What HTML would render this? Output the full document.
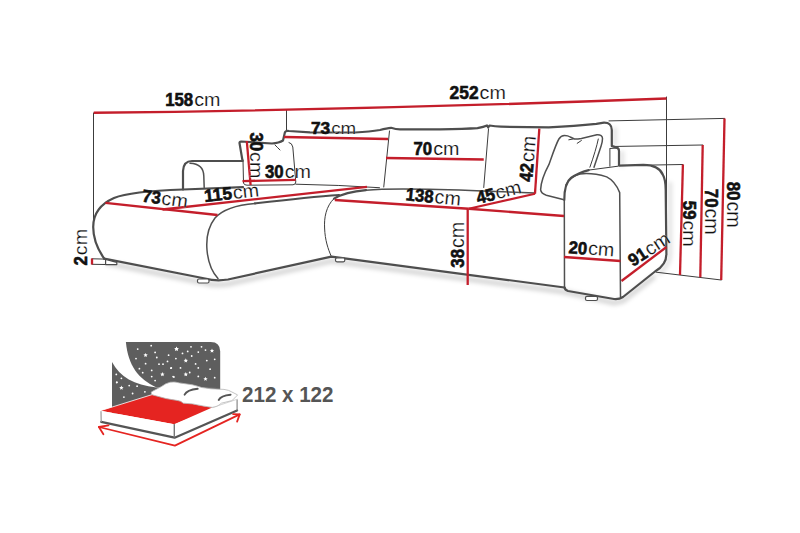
<!DOCTYPE html>
<html><head><meta charset="utf-8"><style>
html,body{margin:0;padding:0;background:#fff;width:800px;height:533px;overflow:hidden;position:relative}
text{font-family:"Liberation Sans",sans-serif}
</style></head><body>
<svg width="800" height="533" viewBox="0 0 800 533" style="position:absolute;left:0;top:0"><defs><filter id="sh" x="-10%" y="-50%" width="120%" height="200%"><feGaussianBlur stdDeviation="2.2"/></filter></defs><g filter="url(#sh)" fill="none" stroke="#000" stroke-opacity="0.16" stroke-width="5"><path d="M106,263 L205,283 Q216,286 228,284 L331.4,261 L564.5,292 L614,303 L623,301 L655,276"/><path d="M615,127 L615,146 M622,151 L622,167 M670,182 L670,254 Q670,266 658,274" stroke-width="4" stroke-opacity="0.12"/></g><g fill="none" stroke="#3c3c3c" stroke-width="1" stroke-linecap="round"><path d="M93.5,113 L93.5,222"/><path d="M286.5,110 L286.5,130"/><path d="M666.5,97 L666.5,256"/><path d="M609,120.9 L724.5,118.4"/><path d="M612,146.5 L702.7,145"/><path d="M643,165.2 L682.9,164.5"/><path d="M656.2,272.2 L721.2,280"/><path d="M92,258.8 L105.6,259.1 L105.6,264.5 L92,264.3"/><path d="M609.9,149 L609.9,166.2"/><path d="M610,148.5 L617,148"/><path d="M598.3,139 Q596,150 589.9,167.2"/><path d="M568.8,139.8 L573,139"/><path d="M577.2,143.3 L581.4,140.5"/><path d="M243,160 L243.5,183 Q244,185.2 247,185.2 L293,184.8 Q295.8,184.5 295.8,182 L292.8,147 Q292,143 289,142.5"/><path d="M275,145 Q278,148 280,150"/><path d="M295.8,184.2 Q340,185 379.5,187.7"/><path d="M334,198.6 C 326,206 324,218 324.6,228 C 325,240 328,249 331.4,256.6"/><path d="M389.5,131 L383.75,187"/><path d="M488.5,129 L483.75,187.5"/><path d="M588.7,170.1 L618,166.2"/></g><g fill="none" stroke="#505050" stroke-width="1.5" stroke-linecap="round" stroke-linejoin="round"><path d="M564.5,287.5 L564.3,200"/><path d="M190,163.3 Q203.6,164 203.8,176 L204.2,187.5"/><path d="M366,190.2 C 380,189 420,188.5 482.5,191 L535,193"/><path d="M255,203.4 C 235,205 222,210 215,218 C 208,227 206,238 207,250 C 208,262 212,272 218,278.5"/><path d="M563.1,199.5 L546.3,195.3 Q541,193.5 540.6,189.7 C 541,180 546,170 549,164.4 C 553,153 556,144 558.9,139 Q561,135.5 564.5,135.5 Q568,135.5 570.2,137 L574.4,139 Q578,139 581.4,138.4 L596.9,134.8 Q602.5,134.5 602.5,138.5 Q602.5,142 601.1,146 L594,167.2"/><path d="M566,185 Q570,176 580,174 Q592,172.5 606.7,176.9 Q615,181 619.7,192.6 L620.5,297"/></g><g fill="none" stroke="#4e4e4e" stroke-width="2.2" stroke-linecap="round" stroke-linejoin="round"><path d="M183,189 L183,171 Q183.5,161 192,161 L242.5,161"/><path d="M242.5,160.7 L239.5,143 Q239.5,141.5 241,141.5 L272,143.5 Q279,143 283,140.5 L285,132 Q286,130.5 289,131 L310,132.3 L355,132.5 Q370,131.8 380,130 Q387,128 391,127.8 Q396,129.4 400,129.4 L440,129.4 Q465,129 477.5,128.2 Q484,127 487,125.5 L488.2,127.5 L489.5,125.5 Q495,126.5 501,126.7 L548.8,127.4 Q575,126 596.3,123.9 L604,122.7 Q611.8,122.6 611.8,130 L611.8,145.9 L617.1,147.9 Q619,148.5 619,151 L619,165.6 L643.4,164.9 Q659,165 663,175 Q665.7,180 665.7,190 L666.4,254 Q666.4,265 655,271.5 L623,297 Q619,299.5 614,299 L568,291 Q565,290 564.5,287.5"/><path d="M183,189.5 C 155,190.5 128,192.3 114,198 C 100,204.2 93.2,214 93.2,227 C 93.2,237 97.5,249 104.2,258.6"/><path d="M104.2,258.6 L205,278.5 Q216,281.5 228,279.5 L331.4,256.6 L564.5,287.5"/><path d="M564.3,200 C 564.3,186 567,181 571,178 Q578,173 588.7,170.1"/><path d="M183,189.5 L243,187.2"/><path d="M255,203.4 C 280,200.5 310,197 339,195"/><path d="M334,198.6 C 342,194 352,191.5 366,190.2"/></g><path d="M105.6,259.3 L116.8,262.3 L116.8,264.6 L105.6,264.6 Z" fill="#fff" stroke="#4a4a4a" stroke-width="1.2" stroke-linejoin="round"/><g fill="#fff" stroke="#4e4e4e" stroke-width="1.2"><rect x="197.5" y="279" width="11.5" height="4" rx="1.5"/><rect x="335.5" y="257.8" width="9.3" height="4" rx="1.5"/><rect x="585.5" y="296.3" width="12" height="4.2" rx="1.5"/></g><g fill="none" stroke="#c41e2b" stroke-width="2.3" stroke-linecap="butt"><path d="M93.75,112.75 Q 380,109.5 666.5,98.5"/><path d="M284,137 L388,139"/><path d="M386,158 L483.75,159.5"/><path d="M246.8,141 L250.6,185"/><path d="M242.5,181.1 L295.7,179.8"/><path d="M105.4,202.8 L217.5,215"/><path d="M162.5,209.5 L367,186.8"/><path d="M334.8,200 L468.75,208.75"/><path d="M468.75,208.75 L535,193.75"/><path d="M535,193.75 L539.3,128.6"/><path d="M468.75,208.75 L564,216"/><path d="M467.7,208.75 L467.7,285"/><path d="M564,257 L620.5,261"/><path d="M621.5,281 L666.5,247"/><path d="M682.9,164.5 L680,275"/><path d="M702.7,145 L700.3,277.3"/><path d="M724.5,118.4 L721.2,280"/><path d="M92,258.5 L92,264.5"/></g><g fill="#111" font-family="Liberation Sans, sans-serif"><g transform="translate(192.80,99.80) rotate(0)"><text x="-27.65" y="6.10" font-weight="bold" font-size="17.43" stroke="#111" stroke-width="0.6" textLength="27.99" lengthAdjust="spacingAndGlyphs">158</text><text x="1.34" y="6.10" font-size="18.70" textLength="26.30" stroke="#fff" stroke-width="0.18" lengthAdjust="spacingAndGlyphs">cm</text></g><g transform="translate(477.75,92.75) rotate(0)"><text x="-28.16" y="6.25" font-weight="bold" font-size="17.86" stroke="#111" stroke-width="0.6" textLength="29.01" lengthAdjust="spacingAndGlyphs">252</text><text x="1.85" y="6.25" font-size="19.16" textLength="26.30" stroke="#fff" stroke-width="0.18" lengthAdjust="spacingAndGlyphs">cm</text></g><g transform="translate(333.60,128.50) rotate(0)"><text x="-22.60" y="5.60" font-weight="bold" font-size="16.00" stroke="#111" stroke-width="0.6" textLength="19.20" lengthAdjust="spacingAndGlyphs">73</text><text x="-2.40" y="5.60" font-size="17.17" textLength="25.00" stroke="#fff" stroke-width="0.18" lengthAdjust="spacingAndGlyphs">cm</text></g><g transform="translate(436.50,148.75) rotate(0)"><text x="-22.98" y="6.15" font-weight="bold" font-size="17.57" stroke="#111" stroke-width="0.6" textLength="18.66" lengthAdjust="spacingAndGlyphs">70</text><text x="-3.32" y="6.15" font-size="18.85" textLength="26.30" stroke="#fff" stroke-width="0.18" lengthAdjust="spacingAndGlyphs">cm</text></g><g transform="translate(288.00,171.80) rotate(0)"><text x="-22.98" y="6.15" font-weight="bold" font-size="17.57" stroke="#111" stroke-width="0.6" textLength="18.66" lengthAdjust="spacingAndGlyphs">30</text><text x="-3.32" y="6.15" font-size="18.85" textLength="26.30" stroke="#fff" stroke-width="0.18" lengthAdjust="spacingAndGlyphs">cm</text></g><g transform="translate(256.30,155.40) rotate(90)"><text x="-22.98" y="6.25" font-weight="bold" font-size="17.86" stroke="#111" stroke-width="0.6" textLength="18.66" lengthAdjust="spacingAndGlyphs">30</text><text x="-3.32" y="6.25" font-size="19.16" textLength="26.30" stroke="#fff" stroke-width="0.18" lengthAdjust="spacingAndGlyphs">cm</text></g><g transform="translate(165.00,198.50) rotate(8)"><text x="-22.98" y="6.15" font-weight="bold" font-size="17.57" stroke="#111" stroke-width="0.6" textLength="18.66" lengthAdjust="spacingAndGlyphs">73</text><text x="-3.32" y="6.15" font-size="18.85" textLength="26.30" stroke="#fff" stroke-width="0.18" lengthAdjust="spacingAndGlyphs">cm</text></g><g transform="translate(231.50,193.00) rotate(-6)"><text x="-27.65" y="6.15" font-weight="bold" font-size="17.57" stroke="#111" stroke-width="0.6" textLength="27.99" lengthAdjust="spacingAndGlyphs">115</text><text x="1.34" y="6.15" font-size="18.85" textLength="26.30" stroke="#fff" stroke-width="0.18" lengthAdjust="spacingAndGlyphs">cm</text></g><g transform="translate(433.40,196.60) rotate(5.5)"><text x="-27.65" y="6.25" font-weight="bold" font-size="17.86" stroke="#111" stroke-width="0.6" textLength="27.99" lengthAdjust="spacingAndGlyphs">138</text><text x="1.34" y="6.25" font-size="19.16" textLength="26.30" stroke="#fff" stroke-width="0.18" lengthAdjust="spacingAndGlyphs">cm</text></g><g transform="translate(498.70,192.40) rotate(-14)"><text x="-22.98" y="6.15" font-weight="bold" font-size="17.57" stroke="#111" stroke-width="0.6" textLength="18.66" lengthAdjust="spacingAndGlyphs">45</text><text x="-3.32" y="6.15" font-size="18.85" textLength="26.30" stroke="#fff" stroke-width="0.18" lengthAdjust="spacingAndGlyphs">cm</text></g><g transform="translate(527.50,158.75) rotate(-85)"><text x="-22.98" y="6.50" font-weight="bold" font-size="18.57" stroke="#111" stroke-width="0.6" textLength="18.66" lengthAdjust="spacingAndGlyphs">42</text><text x="-3.32" y="6.50" font-size="19.93" textLength="26.30" stroke="#fff" stroke-width="0.18" lengthAdjust="spacingAndGlyphs">cm</text></g><g transform="translate(457.50,244.70) rotate(-90)"><text x="-22.98" y="6.35" font-weight="bold" font-size="18.14" stroke="#111" stroke-width="0.6" textLength="18.66" lengthAdjust="spacingAndGlyphs">38</text><text x="-3.32" y="6.35" font-size="19.47" textLength="26.30" stroke="#fff" stroke-width="0.18" lengthAdjust="spacingAndGlyphs">cm</text></g><g transform="translate(591.50,248.70) rotate(4)"><text x="-22.98" y="6.15" font-weight="bold" font-size="17.57" stroke="#111" stroke-width="0.6" textLength="18.66" lengthAdjust="spacingAndGlyphs">20</text><text x="-3.32" y="6.15" font-size="18.85" textLength="26.30" stroke="#fff" stroke-width="0.18" lengthAdjust="spacingAndGlyphs">cm</text></g><g transform="translate(649.00,249.25) rotate(-33)"><text x="-22.98" y="6.15" font-weight="bold" font-size="17.57" stroke="#111" stroke-width="0.6" textLength="18.66" lengthAdjust="spacingAndGlyphs">91</text><text x="-3.32" y="6.15" font-size="18.85" textLength="26.30" stroke="#fff" stroke-width="0.18" lengthAdjust="spacingAndGlyphs">cm</text></g><g transform="translate(689.30,223.80) rotate(90)"><text x="-22.98" y="6.15" font-weight="bold" font-size="17.57" stroke="#111" stroke-width="0.6" textLength="18.66" lengthAdjust="spacingAndGlyphs">59</text><text x="-3.32" y="6.15" font-size="18.85" textLength="26.30" stroke="#fff" stroke-width="0.18" lengthAdjust="spacingAndGlyphs">cm</text></g><g transform="translate(711.00,211.80) rotate(90)"><text x="-22.98" y="6.50" font-weight="bold" font-size="18.57" stroke="#111" stroke-width="0.6" textLength="18.66" lengthAdjust="spacingAndGlyphs">70</text><text x="-3.32" y="6.50" font-size="19.93" textLength="26.30" stroke="#fff" stroke-width="0.18" lengthAdjust="spacingAndGlyphs">cm</text></g><g transform="translate(733.80,204.75) rotate(90)"><text x="-22.98" y="6.50" font-weight="bold" font-size="18.57" stroke="#111" stroke-width="0.6" textLength="18.66" lengthAdjust="spacingAndGlyphs">80</text><text x="-3.32" y="6.50" font-size="19.93" textLength="26.30" stroke="#fff" stroke-width="0.18" lengthAdjust="spacingAndGlyphs">cm</text></g><g transform="translate(81.00,247.25) rotate(-90)"><text x="-18.32" y="6.10" font-weight="bold" font-size="17.43" stroke="#111" stroke-width="0.6" textLength="9.33" lengthAdjust="spacingAndGlyphs">2</text><text x="-7.99" y="6.10" font-size="18.70" textLength="26.30" stroke="#fff" stroke-width="0.18" lengthAdjust="spacingAndGlyphs">cm</text></g></g><g fill="#5e5e5e"><path d="M125.9,342 L210.7,342 Q220.2,342 220.2,351.5 L220.2,387 L156.5,387.5 C 138,379 128,365 125.9,342 Z"/><path d="M112,362 C 120,377 134,385 156.5,387.5 L 220.2,387 L220.2,400 L112,414 Z"/></g><g fill="#fff"><circle cx="151.2" cy="345.7" r="0.9"/><circle cx="137.7" cy="349.1" r="0.9"/><circle cx="155.1" cy="352.4" r="0.9"/><circle cx="136" cy="358.6" r="0.9"/><circle cx="156.8" cy="357.5" r="0.9"/><circle cx="168.6" cy="355.2" r="0.9"/><circle cx="175.9" cy="358.6" r="0.9"/><circle cx="145.6" cy="363.7" r="0.9"/><circle cx="159" cy="364.2" r="0.9"/><circle cx="163" cy="364.2" r="0.9"/><circle cx="167.5" cy="361.4" r="0.9"/><circle cx="139.4" cy="368.7" r="0.9"/><circle cx="151.7" cy="370.4" r="0.9"/><circle cx="142.7" cy="372.7" r="0.9"/><circle cx="170.9" cy="368.2" r="0.9"/><circle cx="173.1" cy="376.6" r="0.9"/><circle cx="151.7" cy="376.6" r="0.9"/><circle cx="155.1" cy="380.6" r="0.9"/><circle cx="116.3" cy="374.4" r="0.9"/><circle cx="121.4" cy="378.3" r="0.9"/><circle cx="116.9" cy="382.2" r="0.9"/><circle cx="137.1" cy="386.2" r="0.9"/><circle cx="129.2" cy="385.6" r="0.9"/><circle cx="132.6" cy="393.5" r="0.9"/><circle cx="191" cy="346.8" r="0.9"/><circle cx="201.5" cy="346.8" r="0.9"/><circle cx="187.7" cy="351.4" r="0.9"/><circle cx="198.3" cy="352.1" r="0.9"/><circle cx="205.5" cy="350.1" r="0.9"/><circle cx="182.5" cy="353.4" r="0.9"/><circle cx="191.7" cy="356" r="0.9"/><circle cx="195.6" cy="363.9" r="0.9"/><circle cx="206.8" cy="360.6" r="0.9"/><circle cx="214.7" cy="359.3" r="0.9"/><circle cx="171.3" cy="367.9" r="0.9"/><circle cx="180.5" cy="367.9" r="0.9"/><circle cx="198.3" cy="367.9" r="0.9"/><circle cx="210.1" cy="369.2" r="0.9"/><circle cx="198.3" cy="376.4" r="0.9"/><circle cx="214.7" cy="377.7" r="0.9"/><circle cx="173.9" cy="377" r="0.9"/><circle cx="189.7" cy="372.5" r="0.9"/><circle cx="116.7" cy="382.6" r="0.9"/><circle cx="123.9" cy="397.1" r="0.9"/><circle cx="144.9" cy="391.8" r="0.9"/><polygon points="145.60,352.90 146.21,354.36 147.79,354.49 146.58,355.52 146.95,357.06 145.60,356.24 144.25,357.06 144.62,355.52 143.41,354.49 144.99,354.36"/><polygon points="176.50,346.80 177.11,348.26 178.69,348.39 177.48,349.42 177.85,350.96 176.50,350.14 175.15,350.96 175.52,349.42 174.31,348.39 175.89,348.26"/><polygon points="162.40,372.10 163.01,373.56 164.59,373.69 163.38,374.72 163.75,376.26 162.40,375.44 161.05,376.26 161.42,374.72 160.21,373.69 161.79,373.56"/><polygon points="121.40,385.60 122.01,387.06 123.59,387.19 122.38,388.22 122.75,389.76 121.40,388.94 120.05,389.76 120.42,388.22 119.21,387.19 120.79,387.06"/><polygon points="176.60,346.50 177.21,347.96 178.79,348.09 177.58,349.12 177.95,350.66 176.60,349.84 175.25,350.66 175.62,349.12 174.41,348.09 175.99,347.96"/><polygon points="212.00,348.50 212.61,349.96 214.19,350.09 212.98,351.12 213.35,352.66 212.00,351.84 210.65,352.66 211.02,351.12 209.81,350.09 211.39,349.96"/><polygon points="185.80,358.30 186.41,359.76 187.99,359.89 186.78,360.92 187.15,362.46 185.80,361.64 184.45,362.46 184.82,360.92 183.61,359.89 185.19,359.76"/><polygon points="185.80,372.10 186.41,373.56 187.99,373.69 186.78,374.72 187.15,376.26 185.80,375.44 184.45,376.26 184.82,374.72 183.61,373.69 185.19,373.56"/><polygon points="205.50,376.70 206.11,378.16 207.69,378.29 206.48,379.32 206.85,380.86 205.50,380.04 204.15,380.86 204.52,379.32 203.31,378.29 204.89,378.16"/></g><path d="M100.6,410.7 L151.8,394.7 L214,400 L212.2,407.6 L174.3,424.2 Z" fill="#e52421"/><path d="M100.6,410.7 L174.3,424.2 L174.3,437.7 L101.2,421.9 Z" fill="#fff"/><path d="M174.3,424.2 L237.1,399.3 L237.1,410.4 L174.3,437.7 Z" fill="#fff"/><g fill="none" stroke-linecap="round" stroke-linejoin="round"><path d="M101.2,421.9 L174.6,437.7 L237.1,410.4" stroke="#555" stroke-width="2.2"/><path d="M101,411.5 L101.2,421.5" stroke="#999" stroke-width="1.2"/><path d="M174.3,424.5 L174.3,437" stroke="#777" stroke-width="1.4"/><path d="M237.1,399.8 L237.1,410" stroke="#888" stroke-width="1.2"/><path d="M101,410.5 L151.8,394.7" stroke="#fff" stroke-width="0.8"/><path d="M212.5,407.6 L237.1,399.3" stroke="#ccc" stroke-width="0.8"/></g><path d="M151.8,394.7 Q150,392 153,391 L161,386.8 Q166,383 170.2,382.2 Q175,381.5 179.4,382.9 L192.5,384.8 Q197,386 201.7,387.5 L210.9,388.8 L224,389.4 Q229,390 231.9,392 L237.6,394.9 Q235,398 231.9,400.6 L221.4,403.2 Q219,405.5 216.1,406.5 L212.2,407.4 Q205,406.5 192.5,403.9 L183.3,403.2 Q181,401 178,400.6 L166.2,398.6 Z" fill="#fff" stroke="#b5b5b5" stroke-width="0.8"/><g fill="none" stroke="#555" stroke-width="1.9" stroke-linecap="round"><path d="M184.6,394.7 Q187,389.8 197.7,388.8"/><path d="M218.7,400 Q221,395.5 230.6,394.7"/></g><g fill="none" stroke="#e52421" stroke-width="1.8" stroke-linecap="round" stroke-linejoin="round"><path d="M98.9,427 L174.9,445.6 L239.7,414.4"/><path d="M108.5,425.3 L98.9,427 L103.4,434.3"/><path d="M233.2,414.2 L239.7,414.4 L237.1,421.6"/></g><text x="242" y="401.8" font-weight="bold" font-size="21.9" fill="#555" textLength="91.5" lengthAdjust="spacingAndGlyphs">212 x 122</text></svg>
</body></html>
